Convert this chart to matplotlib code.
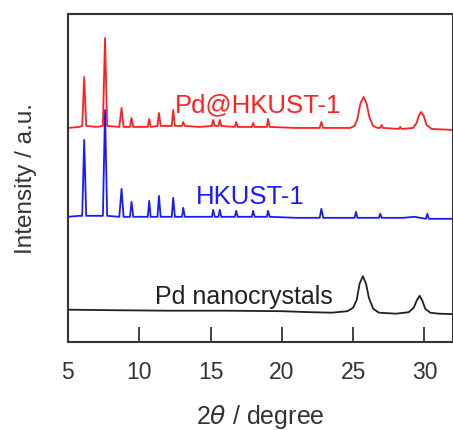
import matplotlib.pyplot as plt

plt.rcParams['font.family'] = ['Liberation Sans', 'DejaVu Sans']
plt.rcParams['mathtext.fontset'] = 'dejavusans'

# Pd@HKUST-1 pattern (red), offset intensity
red_x = [5.0, 5.8, 6.0, 6.14, 6.28, 7.0, 7.45, 7.6, 7.75, 8.6, 8.76, 8.9,
         9.35, 9.46, 9.58, 10.6, 10.7, 10.8, 11.28, 11.38, 11.5, 12.28, 12.38,
         12.5, 13.0, 13.08, 13.2, 14.2, 15.1, 15.18, 15.3, 15.55, 15.65, 15.75,
         16.7, 16.8, 16.9, 17.9, 17.98, 18.1, 18.95, 19.03, 19.15, 21.0, 22.65,
         22.77, 22.9, 24.8, 25.1, 25.3, 25.5, 25.73, 25.95, 26.15, 26.4, 26.7,
         26.9, 27.0, 27.1, 28.2, 28.3, 28.4, 29.2, 29.45, 29.6, 29.77, 29.95,
         30.15, 30.5, 32.0]
red_y = [214, 215, 216, 265, 216, 215, 216, 304, 216, 215, 234, 215,
         215, 224, 215, 215, 223, 215, 216, 229, 216, 216, 232,
         216, 216, 220, 216, 215, 216, 222, 216, 216, 222, 216,
         215, 220, 215, 215, 219, 215, 215, 223, 215, 214, 214,
         220, 214, 214, 216, 223, 238, 245, 238, 224, 216, 214,
         214, 217, 214, 213, 215, 213, 214, 219, 226, 230, 226,
         217, 213, 212]

# HKUST-1 pattern (blue)
blue_x = [5.0, 5.8, 6.0, 6.14, 6.28, 7.0, 7.45, 7.6, 7.75, 8.6, 8.76, 8.9,
          9.35, 9.46, 9.58, 10.6, 10.7, 10.8, 11.28, 11.38, 11.5, 12.28, 12.38,
          12.5, 13.0, 13.08, 13.2, 14.2, 15.1, 15.18, 15.3, 15.55, 15.65, 15.75,
          16.7, 16.8, 16.9, 17.9, 17.98, 18.1, 18.95, 19.03, 19.15, 21.0, 22.65,
          22.77, 22.9, 24.0, 25.1, 25.2, 25.3, 26.0, 26.8, 26.9, 27.0, 28.5,
          29.3, 30.1, 30.2, 30.3, 32.0]
blue_y = [125, 126, 126, 202, 126, 126, 126, 232, 126, 125, 153, 125,
          125, 140, 125, 125, 141, 125, 125, 146, 125, 125, 144,
          125, 125, 134, 125, 125, 125, 132, 125, 125, 132, 125,
          125, 131, 125, 125, 131, 125, 125, 131, 125, 124, 124,
          133, 124, 124, 124, 130, 124, 124, 124, 128, 124, 124,
          125, 123, 128, 123, 123]

# Pd nanocrystals pattern (black)
pd_x = [5.0, 8.0, 12.0, 16.0, 20.0, 22.0, 23.5, 24.6, 25.0, 25.25, 25.45,
        25.68, 25.9, 26.1, 26.4, 26.8, 28.0, 28.9, 29.25, 29.45, 29.66,
        29.85, 30.05, 30.4, 31.0, 32.0]
pd_y = [32, 31.5, 31, 31, 30.5, 29.5, 29, 30.5, 34, 42, 58,
        65.5, 58, 44, 33, 29, 28, 29.5, 34, 41, 46,
        41, 33, 29, 28, 27.5]

fig = plt.figure(figsize=(4.53, 4.31), dpi=100)
ax = fig.add_axes([0.15, 0.205, 0.85, 0.76])

ax.plot(pd_x, pd_y, color='#222222', lw=1.3)
ax.plot(blue_x, blue_y, color='#1a1aff', lw=1.3)
ax.plot(red_x, red_y, color='#ff2020', lw=1.3)

ax.text(12.5, 231, 'Pd@HKUST-1', color='#ff2020', fontsize=18.5)
ax.text(14.0, 139, 'HKUST-1', color='#1a1aff', fontsize=18.5)
ax.text(11.1, 39, 'Pd nanocrystals', color='#222222', fontsize=18)

ax.set_xlim(5, 32)
ax.set_ylim(0, 328)
ax.set_xticks([5, 10, 15, 20, 25, 30])
ax.set_yticks([])
ax.tick_params(axis='x', direction='in', length=11, width=1.3,
               labelsize=16.5, pad=13, colors='#333333')
for s in ax.spines.values():
    s.set_linewidth(1.5)
    s.set_color('#333333')

ax.set_xlabel(r'2$\theta$ / degree', fontsize=18, labelpad=14, color='#333333')
ax.set_ylabel('Intensity / a.u.', fontsize=17.5, labelpad=22, color='#333333')

fig.savefig('out.png', dpi=100)
